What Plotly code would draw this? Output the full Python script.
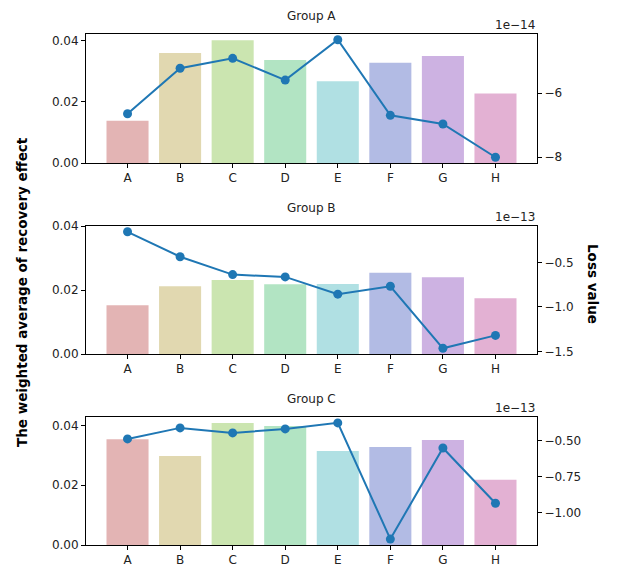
import plotly.graph_objects as go
from plotly.subplots import make_subplots

categories = ["A", "B", "C", "D", "E", "F", "G", "H"]
group_names = ["Group A", "Group B", "Group C"]

effect_A = [0.0138, 0.0359, 0.0401, 0.0336, 0.0267, 0.0327, 0.0349, 0.0227]
effect_B = [0.0152, 0.0212, 0.0231, 0.0218, 0.0219, 0.0254, 0.0240, 0.0174]
effect_C = [0.0354, 0.0298, 0.0408, 0.0398, 0.0314, 0.0328, 0.0351, 0.0218]

# loss values in units of the axis exponent (1e-14, 1e-13, 1e-13)
loss_A = [-6.64, -5.22, -4.91, -5.59, -4.33, -6.69, -6.96, -8.00]
loss_B = [-0.157, -0.437, -0.638, -0.664, -0.858, -0.769, -1.466, -1.321]
loss_C = [-0.486, -0.409, -0.444, -0.416, -0.374, -1.185, -0.549, -0.935]
exponent_labels = ["1e\u221214", "1e\u221213", "1e\u221213"]

bar_colors = ["#e3b4b4", "#e1d8b0", "#cbe5b0", "#b2e4c3",
              "#b0e0e3", "#b2bbe4", "#cdb2e2", "#e3b1d3"]
line_color = "#1f77b4"

effects = [effect_A, effect_B, effect_C]
losses = [loss_A, loss_B, loss_C]

W, H = 617, 565
x0, x1 = 86 / W, 537 / W
rows_px = [(34, 163), (226, 354), (417, 545)]
left_ranges = [[0, 0.0421], [0, 0.0400], [0, 0.0428]]
right_ranges = [[-8.18, -4.15], [-1.53, -0.092], [-1.226, -0.333]]
right_dtick = [2, 0.5, 0.25]
right_fmt = [".0f", ".1f", ".2f"]

fig = make_subplots(rows=3, cols=1, specs=[[{"secondary_y": True}]] * 3)

font_family = "DejaVu Sans"
annotations = []
for i in range(3):
    r = i + 1
    fig.add_trace(go.Bar(x=categories, y=effects[i], marker=dict(color=bar_colors, line=dict(width=0)),
                         width=0.8, showlegend=False, hoverinfo="skip"),
                  row=r, col=1, secondary_y=False)
    fig.add_trace(go.Scatter(x=categories, y=losses[i], mode="lines+markers",
                             line=dict(color=line_color, width=2),
                             marker=dict(color=line_color, size=9),
                             showlegend=False, hoverinfo="skip"), row=r, col=1, secondary_y=True)
    top, bot = rows_px[i]
    d = [(H - bot) / H, (H - top) / H]
    axis_common = dict(showline=True, linecolor="black", linewidth=1, ticks="outside",
                       ticklen=4, tickcolor="black", showgrid=False, zeroline=False,
                       automargin=False,
                       tickfont=dict(size=12, color="#222", family=font_family))
    fig.update_xaxes(domain=[x0, x1], range=[-0.79, 7.79], mirror=True, row=r, col=1, **axis_common)
    fig.update_yaxes(domain=d, range=left_ranges[i], dtick=0.02, tickformat=".2f",
                     mirror=True, row=r, col=1, secondary_y=False, **axis_common)
    fig.update_yaxes(domain=d, range=right_ranges[i], dtick=right_dtick[i], tickformat=right_fmt[i],
                     row=r, col=1, secondary_y=True, **axis_common)
    annotations.append(dict(text=group_names[i], x=(x0 + x1) / 2, y=(H - top + 18) / H,
                            xref="paper", yref="paper", showarrow=False, xanchor="center",
                            yanchor="middle", font=dict(size=12, color="#222", family=font_family)))
    annotations.append(dict(text=exponent_labels[i], x=x1, y=(H - top + 9) / H,
                            xref="paper", yref="paper", showarrow=False, xanchor="right",
                            yanchor="middle", font=dict(size=12, color="#222", family=font_family)))

annotations.append(dict(text="<b>The weighted average of recovery effect</b>", x=22 / W, y=(H - 292) / H,
                        xref="paper", yref="paper", showarrow=False, textangle=-90,
                        xanchor="center", yanchor="middle",
                        font=dict(size=13.5, color="black", family=font_family)))
annotations.append(dict(text="<b>Loss value</b>", x=593 / W, y=(H - 284) / H,
                        xref="paper", yref="paper", showarrow=False, textangle=90,
                        xanchor="center", yanchor="middle",
                        font=dict(size=13.5, color="black", family=font_family)))

fig.update_layout(width=W, height=H, margin=dict(l=0, r=0, t=0, b=0, pad=0), autosize=False,
                  plot_bgcolor="white", paper_bgcolor="white", bargap=0.2,
                  annotations=annotations, font=dict(family=font_family))

post = (
    "var de=document.documentElement;de.style.margin='0';de.style.padding='0';"
    "de.style.height='565px';de.style.overflow='hidden';"
    "var b=document.body;b.style.margin='0';b.style.padding='0';b.style.height='565px';"
    "b.style.overflow='hidden';"
    "var gd=document.getElementById('{plot_id}');gd.style.position='fixed';"
    "gd.style.left='0px';gd.style.top='0px';"
)
fig.write_html("out.html", config={"displayModeBar": False, "responsive": False},
               post_script=post)
